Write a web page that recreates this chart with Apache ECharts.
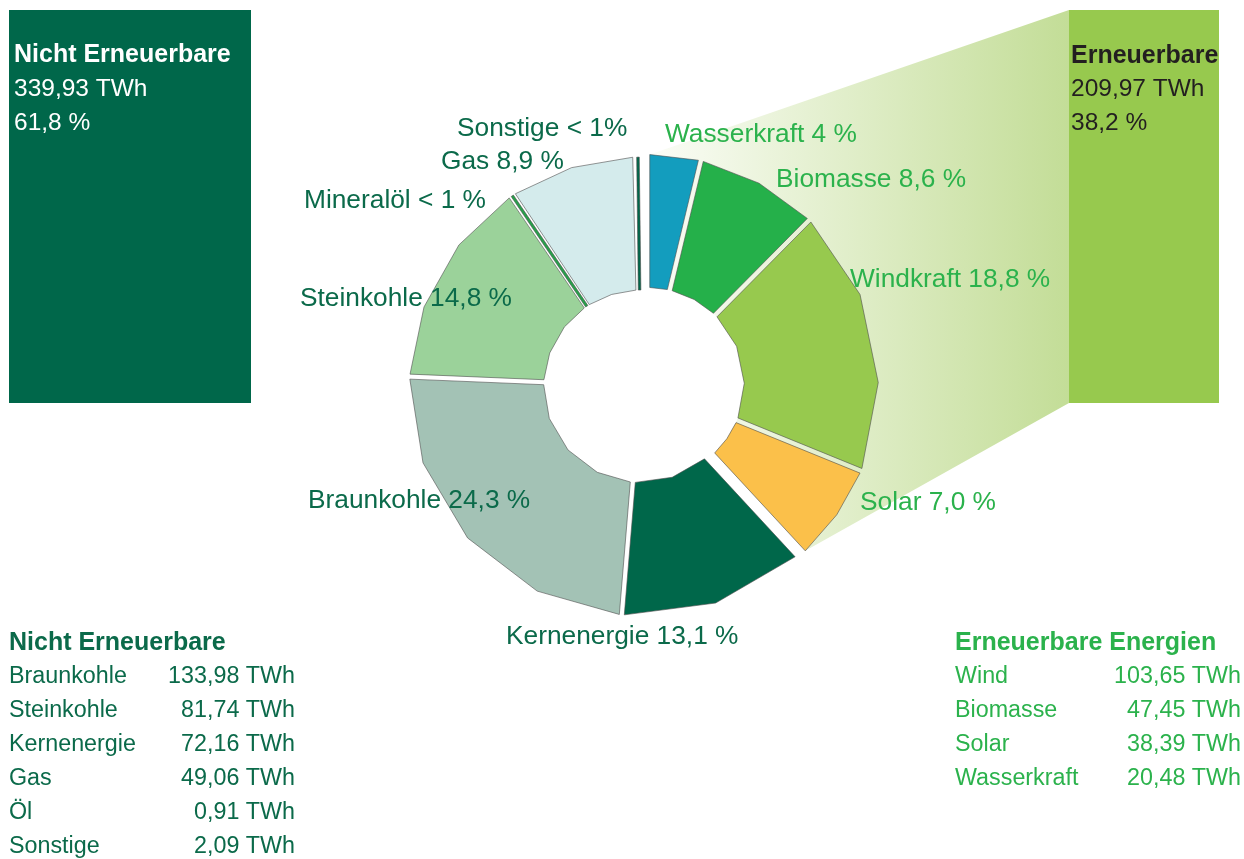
<!DOCTYPE html>
<html>
<head>
<meta charset="utf-8">
<script src="https://cdn.jsdelivr.net/npm/echarts@6/dist/echarts.min.js"></script>
<style>
  html, body { margin: 0; padding: 0; background: #fff; }
  #chart { width: 1244px; height: 859px; }
</style>
</head>
<body>
<div id="chart"></div>
<script>
// slices, clockwise from 12 o'clock
const sliceNames = ['Wasserkraft', 'Biomasse', 'Windkraft', 'Solar', 'Kernenergie', 'Braunkohle', 'Steinkohle', 'Mineralöl', 'Gas', 'Sonstige']
const sliceValues = [20.48, 47.45, 103.65, 38.39, 72.16, 133.98, 81.74, 0.91, 49.06, 2.09]
const slicePercents = ['4 %', '8,6 %', '18,8 %', '7,0 %', '13,1 %', '24,3 %', '14,8 %', '< 1 %', '8,9 %', '< 1%']
const sliceRenewable = [true, true, true, true, false, false, false, false, false, false]

const fossilNames = ['Braunkohle', 'Steinkohle', 'Kernenergie', 'Gas', 'Öl', 'Sonstige']
const fossilValues = [133.98, 81.74, 72.16, 49.06, 0.91, 2.09]
const renewNames = ['Wind', 'Biomasse', 'Solar', 'Wasserkraft']
const renewValues = [103.65, 47.45, 38.39, 20.48]

const fossilTotal = ['339,93 TWh', '61,8 %']
const renewTotal = ['209,97 TWh', '38,2 %']

// colours and layout
const sliceColors = ['#139dbe', '#25b04a', '#97c94e', '#fbc04a', '#00674a', '#a3c2b5', '#9bd29a', '#27a04a', '#d4ebec', '#00674a']
const DARK = '#00674a'
const DARK_TEXT = '#0b6a4a'
const GREEN_TEXT = '#2bb24c'
const LIME = '#97c94e'
const FONT = '"Liberation Sans", Arial, sans-serif'

const labelPos = [
  [665, 135], [776, 180], [850, 280], [860, 503], [506, 637],
  [308, 501], [300, 299], [304, 201], [441, 162], [457, 129]
]

const BOX_L = { x: 9, y: 10, w: 242, h: 393 }
const BOX_R = { x: 1069, y: 10, w: 150, h: 393 }

const INNER = 0.42
const GAP = 2.5
const TINY_W = 2.6
const EXPLODE = 3.5
const SY = 0.992

const total = sliceValues.reduce((a, b) => a + b, 0)
const starts = []
let acc = 0
sliceValues.forEach(v => { starts.push(acc); acc += v })
const renewEnd = sliceValues.reduce((s, v, i) => s + (sliceRenewable[i] ? v : 0), 0)

const fmt = v => v.toFixed(2).replace('.', ',')

function sub(a, b) { return [a[0] - b[0], a[1] - b[1]] }
function add(a, b, k) { return [a[0] + b[0] * k, a[1] + b[1] * k] }
function norm(a) { const l = Math.hypot(a[0], a[1]) || 1; return [a[0] / l, a[1] / l] }

function renderSlice(params, api) {
  const i = params.dataIndex
  const a0 = api.value(1)
  const a1 = api.value(2)
  const c = api.coord([0, 0])
  const pt = (r, v) => { const p = api.coord([r, v]); return [p[0], c[1] + (p[1] - c[1]) * SY] }

  // unit normal at boundary v pointing toward increasing value
  const normalAt = v => {
    const u = norm(sub(pt(1, v), c))
    const d = sub(pt(1, v + total * 0.001), pt(1, v))
    const dot = d[0] * u[0] + d[1] * u[1]
    return norm([d[0] - dot * u[0], d[1] - dot * u[1]])
  }

  const arc = (v0, v1, r) => {
    const n = Math.max(1, Math.ceil(((v1 - v0) / total * 360) / 24))
    const out = []
    for (let k = 0; k <= n; k++) out.push(pt(r, v0 + (v1 - v0) * k / n))
    return out
  }

  // both groups are pulled apart a little
  const groupMid = sliceRenewable[i] ? renewEnd / 2 : (renewEnd + total) / 2
  const shift = norm(sub(pt(1, groupMid), c))
  const move = p => add(p, shift, EXPLODE)

  const children = []

  if (i === 0) {
    // gradient fan from the renewable part of the ring to the right box
    const n0 = normalAt(0)
    const n1 = normalAt(renewEnd)
    const innerPts = []
    for (let j = 0; j < sliceValues.length; j++) {
      if (!sliceRenewable[j]) continue
      innerPts.push(...arc(starts[j], starts[j] + sliceValues[j], INNER))
    }
    innerPts[0] = add(innerPts[0], n0, GAP)
    innerPts[innerPts.length - 1] = add(innerPts[innerPts.length - 1], n1, -GAP)
    const o0 = move(add(pt(1, 0), n0, GAP))
    const o1 = move(add(pt(1, renewEnd), n1, -GAP))
    const pts = [o0, [BOX_R.x, BOX_R.y], [BOX_R.x, BOX_R.y + BOX_R.h], o1].concat(innerPts.reverse().map(move))
    children.push({
      type: 'polygon',
      shape: { points: pts },
      style: {
        fill: new echarts.graphic.LinearGradient(o0[0], 0, BOX_R.x, 0, [
          { offset: 0, color: '#fbfdf7' },
          { offset: 1, color: '#c3dd97' }
        ], true)
      }
    })
  }

  const spanPx = (a1 - a0) / total * 2 * Math.PI * Math.hypot(...sub(pt(INNER, a0), c))
  let points
  if (spanPx < 2 * GAP + 3) {
    const am = (a0 + a1) / 2
    const nm = normalAt(am)
    const po = pt(1, am)
    const pi = pt(INNER, am)
    points = [add(po, nm, -TINY_W / 2), add(po, nm, TINY_W / 2), add(pi, nm, TINY_W / 2), add(pi, nm, -TINY_W / 2)]
  } else {
    const n0 = normalAt(a0)
    const n1 = normalAt(a1)
    const outer = arc(a0, a1, 1)
    const inner = arc(a0, a1, INNER)
    outer[0] = add(outer[0], n0, GAP)
    inner[0] = add(inner[0], n0, GAP)
    outer[outer.length - 1] = add(outer[outer.length - 1], n1, -GAP)
    inner[inner.length - 1] = add(inner[inner.length - 1], n1, -GAP)
    points = outer.concat(inner.reverse())
  }

  children.push({
    type: 'polygon',
    shape: { points: points.map(move) },
    style: { fill: sliceColors[i], stroke: '#4d4d4d', lineWidth: 0.6 }
  })

  return { type: 'group', children }
}

const graphics = []

// summary boxes
graphics.push({ type: 'rect', shape: { x: BOX_L.x, y: BOX_L.y, width: BOX_L.w, height: BOX_L.h }, style: { fill: DARK } })
graphics.push({ type: 'rect', shape: { x: BOX_R.x, y: BOX_R.y, width: BOX_R.w, height: BOX_R.h }, style: { fill: LIME } })

function text(str, x, y, color, size, bold, align) {
  return {
    type: 'text',
    z: 10,
    style: {
      text: str, x, y,
      fill: color,
      font: (bold ? 'bold ' : '') + size + 'px ' + FONT,
      textAlign: align || 'left',
      textVerticalAlign: 'middle'
    }
  }
}

graphics.push(text('Nicht Erneuerbare', 14, 55, '#ffffff', 25, true))
fossilTotal.forEach((s, k) => graphics.push(text(s, 14, 89 + k * 34, '#ffffff', 24.5)))
graphics.push(text('Erneuerbare', 1071, 56, '#231f20', 25, true))
renewTotal.forEach((s, k) => graphics.push(text(s, 1071, 89 + k * 34, '#231f20', 24.5)))

// slice labels
sliceNames.forEach((name, i) => {
  graphics.push(text(name + ' ' + slicePercents[i], labelPos[i][0], labelPos[i][1],
    sliceRenewable[i] ? GREEN_TEXT : DARK_TEXT, 26.3))
})

// tables
graphics.push(text('Nicht Erneuerbare', 9, 643, DARK_TEXT, 25, true))
fossilNames.forEach((name, k) => {
  graphics.push(text(name, 9, 677 + k * 34, DARK_TEXT, 23.3))
  graphics.push(text(fmt(fossilValues[k]) + ' TWh', 295, 677 + k * 34, DARK_TEXT, 23.3, false, 'right'))
})
graphics.push(text('Erneuerbare Energien', 955, 643, GREEN_TEXT, 25, true))
renewNames.forEach((name, k) => {
  graphics.push(text(name, 955, 677 + k * 34, GREEN_TEXT, 23.3))
  graphics.push(text(fmt(renewValues[k]) + ' TWh', 1241, 677 + k * 34, GREEN_TEXT, 23.3, false, 'right'))
})

const chart = echarts.init(document.getElementById('chart'), null, { renderer: 'canvas' })
chart.setOption({
  backgroundColor: '#ffffff',
  animation: false,
  polar: { center: [644, 385], radius: 231 },
  angleAxis: {
    type: 'value', min: 0, max: total, startAngle: 90, clockwise: true,
    show: false, axisLine: { show: false }, axisTick: { show: false }, axisLabel: { show: false }, splitLine: { show: false }
  },
  radiusAxis: {
    type: 'value', min: 0, max: 1,
    show: false, axisLine: { show: false }, axisTick: { show: false }, axisLabel: { show: false }, splitLine: { show: false }
  },
  graphic: { elements: graphics },
  series: [{
    type: 'custom',
    coordinateSystem: 'polar',
    silent: true,
    renderItem: renderSlice,
    data: sliceValues.map((v, i) => [0.5, starts[i], starts[i] + v])
  }]
})
</script>
</body>
</html>
